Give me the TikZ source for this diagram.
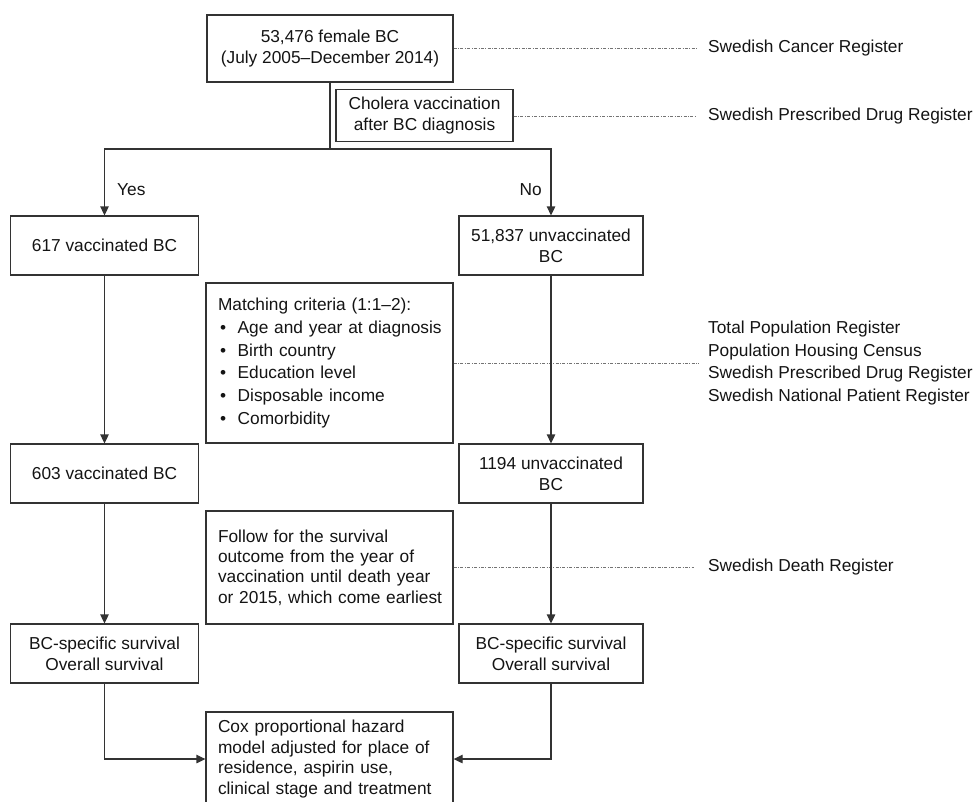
\documentclass[tikz,border=0pt]{standalone}
\usepackage{fontspec}
\setmainfont{Liberation Sans}
\usetikzlibrary{arrows.meta,calc}
\begin{document}
\begin{tikzpicture}[x=1pt,y=-1pt,
  font=\fontsize{17.3}{20.8}\selectfont,
  every node/.style={text=black!92},
  box/.style={draw=black!80, line width=1.3pt, inner sep=0pt, align=center},
  lbox/.style={box, align=left, inner xsep=12pt, text width=223pt, minimum width=247pt},
  colbox/.style={box, minimum height=59pt},
  conn/.style={draw=black!80, line width=1.3pt},
  arr/.style={conn, -{Triangle[length=9pt,width=8.5pt]}},
  reg/.style={draw=black!55, line width=0.6pt, dash pattern=on 3pt off 1.5pt on 0.8pt off 1.5pt},
  regtext/.style={anchor=west, inner sep=0pt, align=left}]
\useasboundingbox (0,0) rectangle (974,801);
\fill[white] (0,0) rectangle (974,801);

% top boxes
\node[box, minimum width=246pt, minimum height=67pt] (b1) at (330,48.5) {53,476 female BC\\(July 2005\textendash December 2014)};
\node[box, minimum width=177pt, minimum height=52pt] (b2) at (424.5,115.5) {Cholera vaccination\\after BC diagnosis};

% left column
\node[colbox, minimum width=188pt] (b617) at (104.5,245.5) {617 vaccinated BC};
\node[colbox, minimum width=188pt] (b603) at (104.5,473.5) {603 vaccinated BC};
\node[colbox, minimum width=188pt] (bcl) at (104.5,653.5) {BC-specific survival\\Overall survival};

% right column
\node[colbox, minimum width=184pt] (b51837) at (551,245.5) {51,837 unvaccinated\\BC};
\node[colbox, minimum width=184pt] (b1194) at (551,473.5) {1194 unvaccinated\\BC};
\node[colbox, minimum width=184pt] (bcr) at (551,653.5) {BC-specific survival\\Overall survival};

% middle boxes
\node[lbox, minimum height=160pt, font=\fontsize{17.3}{22.7}\selectfont] (match) at (329.5,363) {\mbox{Matching criteria (1:1\textendash 2):}\\
\mbox{\makebox[19.7pt][l]{\hspace{2pt}\textbullet}Age and year at diagnosis}\\
\mbox{\makebox[19.7pt][l]{\hspace{2pt}\textbullet}Birth country}\\
\mbox{\makebox[19.7pt][l]{\hspace{2pt}\textbullet}Education level}\\
\mbox{\makebox[19.7pt][l]{\hspace{2pt}\textbullet}Disposable income}\\
\mbox{\makebox[19.7pt][l]{\hspace{2pt}\textbullet}Comorbidity}};
\node[lbox, minimum height=113pt, font=\fontsize{17.3}{20.4}\selectfont] (follow) at (329.5,567.5) {\mbox{Follow for the survival}\\\mbox{outcome from the year of}\\\mbox{vaccination until death year}\\\mbox{or 2015, which come earliest}};
\node[lbox, minimum height=94pt, font=\fontsize{17.3}{20.9}\selectfont] (cox) at (329.5,759) {\mbox{Cox proportional hazard}\\\mbox{model adjusted for place of}\\\mbox{residence, aspirin use,}\\\mbox{clinical stage and treatment}};

% register labels
\node[regtext] (r1) at (708,48.5) {Swedish Cancer Register};
\node[regtext] (r2) at (708,116.5) {Swedish Prescribed Drug Register};
\node[regtext, font=\fontsize{17.3}{22.5}\selectfont] (r3) at (708,363) {Total Population Register\\Population Housing Census\\Swedish Prescribed Drug Register\\Swedish National Patient Register};
\node[regtext] (r4) at (708,567.5) {Swedish Death Register};

% yes / no
\node[anchor=west, inner sep=0pt] (yes) at (117,190) {Yes};
\node[anchor=east, inner sep=0pt] (no) at (542,190) {No};

% dotted register links
\draw[reg] (b1.east) -- ($(b1.east -| r1.west)+(-11,0)$);
\draw[reg] (b2.east |- r2.west) -- ($(r2.west)+(-11,0)$);
\draw[reg] (match.east) -- ($(match.east -| r3.west)+(-9,0)$);
\draw[reg] (follow.east) -- ($(follow.east -| r4.west)+(-14,0)$);

% connectors
\coordinate (split) at (330,149);
\draw[conn] (b1.south) -- (split);
\draw[arr] (split) -| (b617.north);
\draw[arr] (split) -| (b51837.north);
\draw[arr] (b617.south) -- (b603.north);
\draw[arr] (b51837.south) -- (b1194.north);
\draw[arr] (b603.south) -- (bcl.north);
\draw[arr] (b1194.south) -- (bcr.north);
\draw[arr] (bcl.south) |- (cox.west);
\draw[arr] (bcr.south) |- (cox.east);
\end{tikzpicture}
\end{document}
